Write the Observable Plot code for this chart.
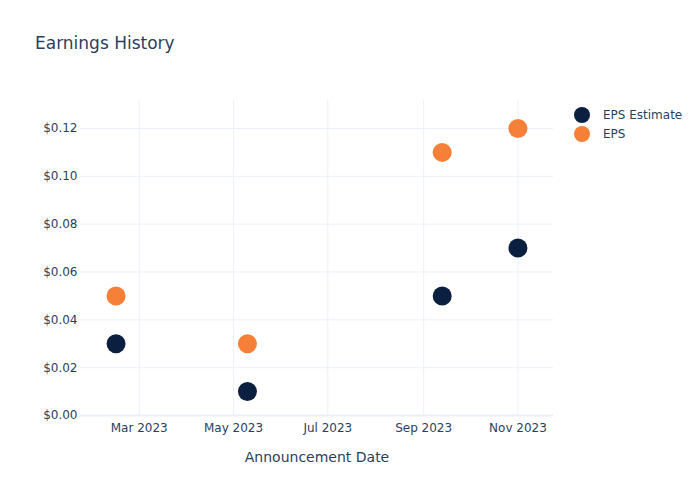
<!DOCTYPE html>
<html>
<head>
<meta charset="utf-8">
<script src="https://cdn.jsdelivr.net/npm/d3@7"></script>
<script src="https://cdn.jsdelivr.net/npm/@observablehq/plot@0.6"></script>
<style>
  body { margin: 0; background: #fff; font-family: "DejaVu Sans", sans-serif; }
  #wrap { position: relative; width: 700px; height: 500px; }
  #title { position: absolute; left: 35px; top: 33px; font-size: 17px; color: #2a3f5f; }
  #legend { position: absolute; left: 574px; top: 105px; font-size: 12px; color: #2a3f5f; }
  .item { display: flex; align-items: center; height: 19px; }
  .sw { width: 16px; height: 16px; border-radius: 50%; margin-right: 13px; }
  #chart { position: absolute; left: 0; top: 0; }
</style>
</head>
<body>
<div id="wrap">
  <div id="chart"></div>
  <div id="title">Earnings History</div>
  <div id="legend"></div>
</div>
<script>
const dates = ["2023-02-14", "2023-05-10", "2023-09-13", "2023-11-01"];
const epsEstimate = [0.03, 0.01, 0.05, 0.07];
const eps = [0.05, 0.03, 0.11, 0.12];
const seriesNames = ["EPS Estimate", "EPS"];
const seriesColors = ["#0b1f40", "#f68038"];
const yTicks = [0, 0.02, 0.04, 0.06, 0.08, 0.10, 0.12];
const xTicks = ["2023-03-01", "2023-05-01", "2023-07-01", "2023-09-01", "2023-11-01"];

const parse = d3.utcParse("%Y-%m-%d");
const data = [];
dates.forEach((d, i) => {
  data.push({date: parse(d), value: epsEstimate[i], series: seriesNames[0]});
});
dates.forEach((d, i) => {
  data.push({date: parse(d), value: eps[i], series: seriesNames[1]});
});

const textColor = "#2a3f5f";
const grid = "#ebf0f8";

const plot = Plot.plot({
  width: 700,
  height: 500,
  marginLeft: 80,
  marginRight: 147,
  marginTop: 100,
  marginBottom: 85,
  style: {fontFamily: "'DejaVu Sans', sans-serif", fontSize: "12px", color: textColor, background: "transparent"},
  x: {type: "utc", domain: [parse("2023-01-22"), parse("2023-11-24")], label: null},
  y: {domain: [0, 0.1317], label: null},
  color: {domain: seriesNames, range: seriesColors},
  marks: [
    Plot.ruleX(xTicks.map(parse), {stroke: grid, strokeWidth: 1}),
    Plot.ruleY(yTicks.filter(v => v > 0), {stroke: grid, strokeWidth: 1}),
    Plot.ruleY([0], {stroke: grid, strokeWidth: 2}),
    Plot.axisY(yTicks, {tickSize: 0, tickPadding: 3, tickFormat: d3.format("$.2f"), fill: textColor, fontSize: 12}),
    Plot.axisX(xTicks.map(parse), {tickSize: 0, tickPadding: 8, tickFormat: d3.utcFormat("%b %Y"), fill: textColor, fontSize: 12, label: null}),
    Plot.text(["Announcement Date"], {frameAnchor: "bottom", dy: 46, text: d => d, fill: textColor, fontSize: 14}),
    Plot.dot(data, {x: "date", y: "value", fill: "series", r: 9.5})
  ]
});
document.getElementById("chart").appendChild(plot);

const legend = document.getElementById("legend");
seriesNames.forEach((n, i) => {
  const it = document.createElement("div");
  it.className = "item";
  it.innerHTML = `<span class="sw" style="background:${seriesColors[i]}"></span><span>${n}</span>`;
  legend.appendChild(it);
});
</script>
</body>
</html>
